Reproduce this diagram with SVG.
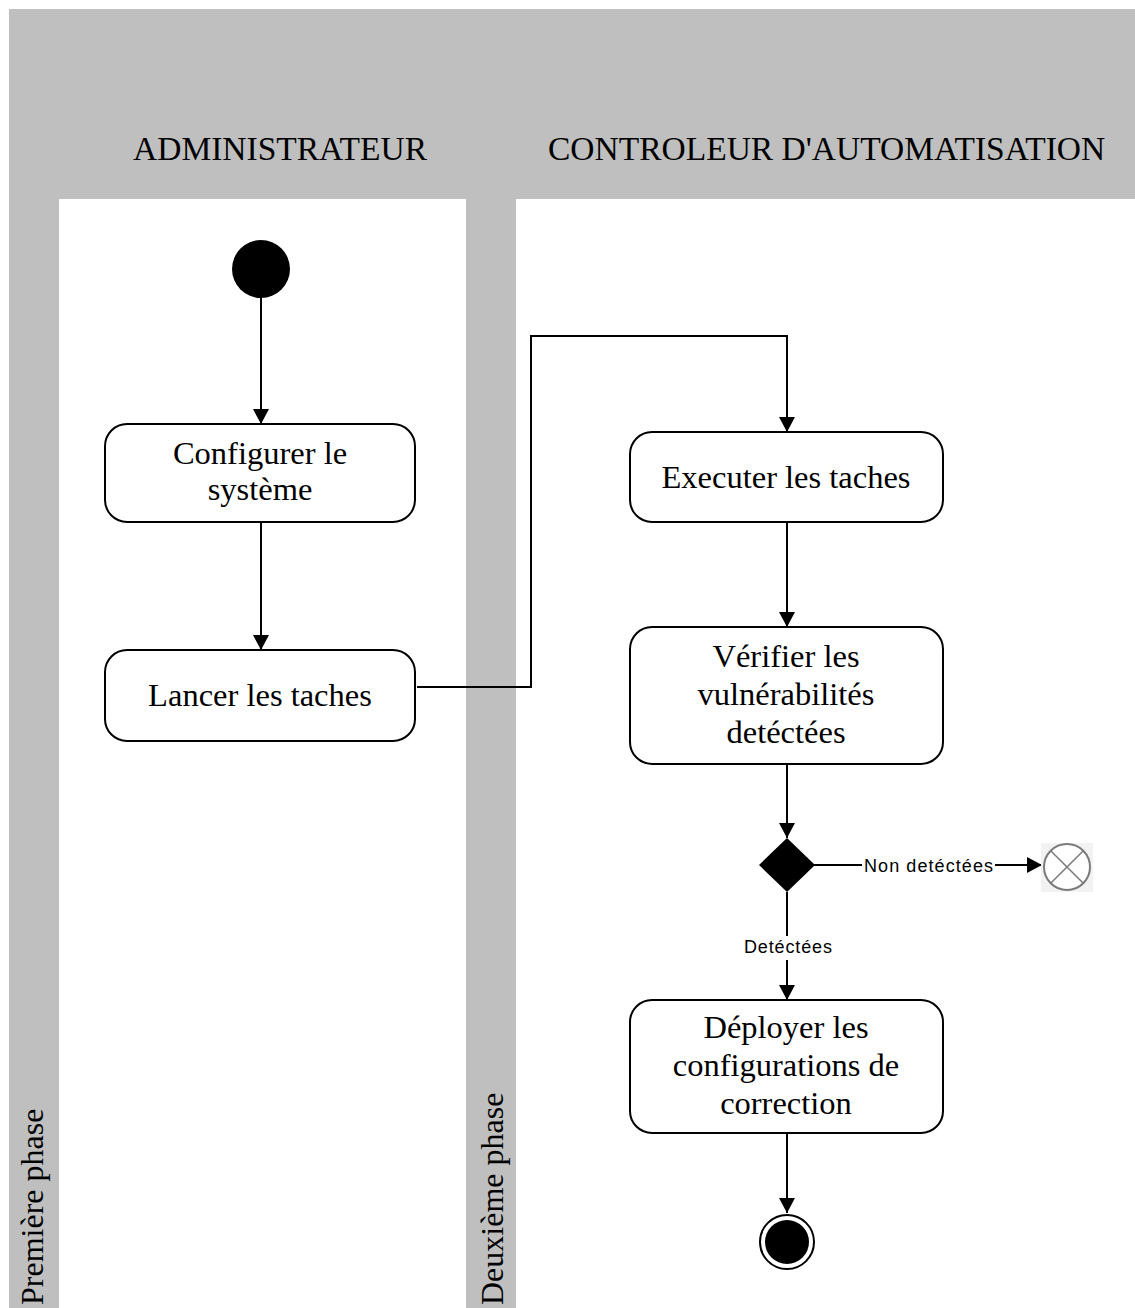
<svg xmlns="http://www.w3.org/2000/svg" width="1135" height="1308" viewBox="0 0 1135 1308">
<style>
.lane{fill:#bfbfbf}
.white{fill:#ffffff}
.hdr{font-family:"Liberation Serif","Times New Roman",serif;font-size:33.5px;fill:#000}
.vhdr{font-family:"Liberation Serif","Times New Roman",serif;font-size:32px;fill:#000}
.act{fill:#fff;stroke:#000;stroke-width:2}
.t{font-family:"Liberation Serif","Times New Roman",serif;font-size:32.5px;fill:#000;text-anchor:middle}
.edge{fill:none;stroke:#000;stroke-width:2}
.lbl{font-family:"Liberation Sans",Arial,sans-serif;font-size:18px;fill:#000}
</style>
<defs>
<marker id="arr" markerUnits="userSpaceOnUse" markerWidth="16" markerHeight="16" refX="15" refY="8" orient="auto">
<path d="M0,0 L15,8 L0,16 z" fill="#000"/>
</marker>
</defs>
<g id="swimlanes">
<rect class="lane" x="9" y="9" width="1126" height="1299"/>
<rect class="white" x="59" y="199" width="407" height="1109"/>
<rect class="white" x="516" y="199" width="619" height="1109"/>
<text class="hdr" x="133" y="160">ADMINISTRATEUR</text>
<text class="hdr" x="548" y="160">CONTROLEUR D'AUTOMATISATION</text>
<text class="vhdr" transform="translate(43,1305) rotate(-90)">Première phase</text>
<text class="vhdr" transform="translate(503,1305) rotate(-90)">Deuxième phase</text>
</g>
<g id="connectors">
<path class="edge" d="M261,298 L261,424" marker-end="url(#arr)"/>
<path class="edge" d="M261,522 L261,650" marker-end="url(#arr)"/>
<path class="edge" d="M417,687 L531,687 L531,336 L787,336 L787,432" marker-end="url(#arr)"/>
<path class="edge" d="M787,522 L787,627" marker-end="url(#arr)"/>
<path class="edge" d="M787,764 L787,838" marker-end="url(#arr)"/>
<path class="edge" d="M814,865 L1042,865" marker-end="url(#arr)"/>
<path class="edge" d="M787,892 L787,1000" marker-end="url(#arr)"/>
<path class="edge" d="M787,1133 L787,1213" marker-end="url(#arr)"/>
<rect x="862" y="852" width="133" height="26" fill="#fff"/>
<text class="lbl" x="864" y="872" textLength="129" lengthAdjust="spacing">Non detéctées</text>
<rect x="742" y="936" width="92" height="24" fill="#fff"/>
<text class="lbl" x="744" y="953" textLength="88" lengthAdjust="spacing">Detéctées</text>
</g>
<g id="start">
<circle cx="261" cy="269" r="29" fill="#000"/>
</g>
<g id="configurer">
<rect class="act" x="105" y="424" width="310" height="98" rx="22"/>
<text class="t" x="260" y="464">Configurer le</text>
<text class="t" x="260" y="500">système</text>
</g>
<g id="lancer">
<rect class="act" x="105" y="650" width="310" height="91" rx="22"/>
<text class="t" x="260" y="706">Lancer les taches</text>
</g>
<g id="executer">
<rect class="act" x="630" y="432" width="313" height="90" rx="22"/>
<text class="t" x="786" y="488">Executer les taches</text>
</g>
<g id="verifier">
<rect class="act" x="630" y="627" width="313" height="137" rx="22"/>
<text class="t" x="786" y="667">Vérifier les</text>
<text class="t" x="786" y="705">vulnérabilités</text>
<text class="t" x="786" y="743">detéctées</text>
</g>
<g id="decision">
<path d="M787,838 L815,865 L787,892 L759,865 z" fill="#000"/>
</g>
<g id="flowfinal">
<rect x="1041" y="843" width="52" height="49" fill="#f2f2f2"/>
<circle cx="1067" cy="867" r="23" fill="#fff" stroke="#7a7a7a" stroke-width="2"/>
<path d="M1050.7,850.7 L1083.3,883.3 M1083.3,850.7 L1050.7,883.3" stroke="#7a7a7a" stroke-width="1.5"/>
</g>
<g id="deployer">
<rect class="act" x="630" y="1000" width="313" height="133" rx="22"/>
<text class="t" x="786" y="1038">Déployer les</text>
<text class="t" x="786" y="1076">configurations de</text>
<text class="t" x="786" y="1114">correction</text>
</g>
<g id="end">
<circle cx="787" cy="1242" r="27" fill="#fff" stroke="#000" stroke-width="2"/>
<circle cx="787" cy="1242" r="22" fill="#000"/>
</g>
</svg>
